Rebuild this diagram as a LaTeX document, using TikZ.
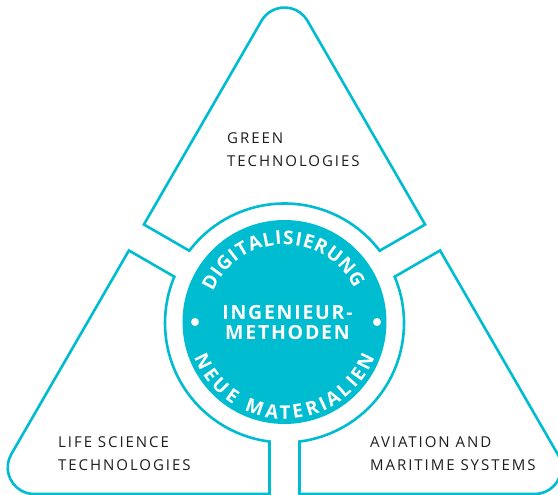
\documentclass[tikz,border=0pt]{standalone}
\usepackage{fontspec}
\setmainfont{Open Sans}
\newfontfamily\labelfont[LetterSpace=13]{Open Sans}
\newfontfamily\corefont[LetterSpace=9]{Open Sans}
\newfontfamily\curvefont{Open Sans}
\definecolor{teal1}{HTML}{00BCD1}
\definecolor{ink}{HTML}{1E1E1E}
\tikzset{
  tri/.style={draw=teal1, line width=2.6pt, fill=white},
  lbl/.style={anchor=base west, align=left, text=ink, inner sep=0pt,
    font=\labelfont\fontsize{15}{23}\selectfont},
  core/.style={align=center, text=white, inner sep=0pt, anchor=base,
    font=\corefont\bfseries\fontsize{19.5}{20}\selectfont},
  arcl/.style={anchor=base, text=white, inner sep=0pt,
    font=\curvefont\bfseries\fontsize{19}{19}\selectfont},
  dot/.style={circle, fill=white, inner sep=0pt, minimum size=8pt},
  disk/.style={circle, fill=teal1, inner sep=0pt, minimum size=204pt},
}
\begin{document}
\begin{tikzpicture}[x=1pt,y=1pt]
\useasboundingbox (-284.5,-172) rectangle (273.5,323);
\clip (-284.5,-172) rectangle (273.5,323);
\foreach \r in {0,120,240}{
  \begin{scope}[rotate=\r]
    \draw[tri] (37.21:119.5) -- (140.59,98.49) -- (22.95,302.25)
      arc[start angle=30,end angle=150,radius=26.5]
      -- (-140.59,98.49) -- (142.79:119.5)
      arc[start angle=142.79,end angle=37.21,radius=119.5] -- cycle;
  \end{scope}
}
\node[disk] (core) at (0,1) {};
\node[dot] (dotL) at (-89.5,1) {};
\node[dot] (dotR) at (92.5,1) {};
\node[core] (method) at (3,-17) {INGENIEUR-\\METHODEN};
\begin{scope}[yshift=1pt]
  \foreach \a/\c [count=\i] in {152.0/D,143.8/I,135.7/G,127.6/I,120.3/T,
      110.7/A,101.3/L,94.3/I,87.3/S,80.2/I,73.2/E,64.1/R,53.5/U,42.1/N,30.9/G}
    \node[arcl, rotate=\a-90] (top\i) at (\a:77.5) {\c};
  \foreach \a/\c [count=\i] in {206/N,215.6/E,225/U,234.9/E,250.8/M,
      262/A,270.3/T,278.4/E,287.8/R,295.1/I,302.4/A,311.1/L,318.2/I,
      324.7/E,333.8/N}
    \node[arcl, rotate=\a+90] (bot\i) at (\a:97) {\c};
\end{scope}
\node[lbl] (green) at (-57.5,156) {GREEN\\TECHNOLOGIES};
\node[lbl] (life) at (-226.5,-148) {LIFE SCIENCE\\TECHNOLOGIES};
\node[lbl] (avia) at (85.5,-148) {AVIATION AND\\MARITIME SYSTEMS};
\end{tikzpicture}
\end{document}
